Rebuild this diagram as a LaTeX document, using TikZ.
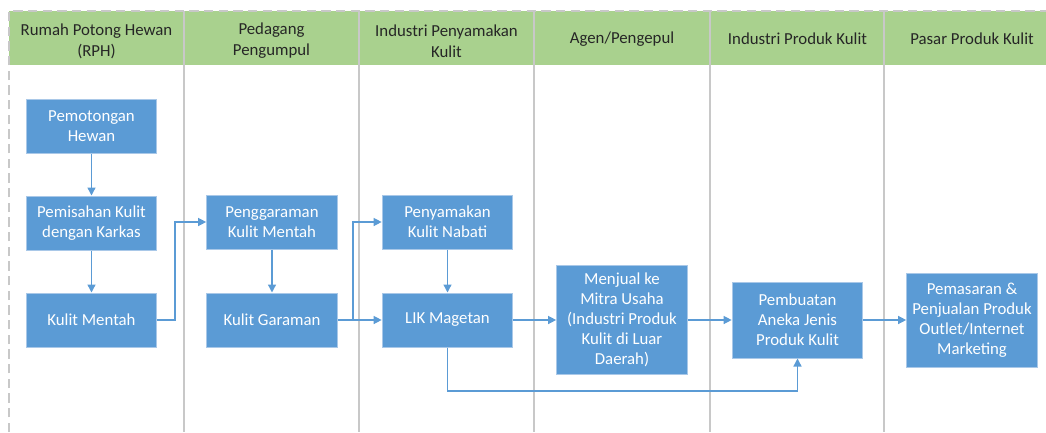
\documentclass[tikz,border=0pt]{standalone}
\usepackage{fontspec}
\setmainfont{Carlito}
\usetikzlibrary{arrows.meta}
\definecolor{hdr}{HTML}{A9D18E}
\definecolor{boxblue}{HTML}{5B9BD5}
\definecolor{boxedge}{HTML}{A9C8E8}
\definecolor{lanegray}{HTML}{C8C8C8}
\definecolor{hdrtext}{HTML}{262626}
\tikzset{
  procbox/.style={draw=boxedge, line width=0.75pt, fill=boxblue, text=white, align=center,
    inner sep=0pt, minimum width=98pt, font=\fontsize{12.6}{15}\selectfont},
  lanehead/.style={text=hdrtext, align=center, inner sep=0pt, font=\fontsize{12.6}{15.75}\selectfont},
  flow/.style={draw=boxblue, line width=1pt, -{Triangle[length=6pt,width=6pt]}},
  divider/.style={draw=lanegray, line width=1.2pt},
  border/.style={draw=lanegray, line width=1.2pt, dash pattern=on 7pt off 4pt}
}
\begin{document}
\begin{tikzpicture}[x=0.75pt,y=-0.75pt]
\useasboundingbox (0,0) rectangle (1046,432);
% header band
\fill[hdr] (9,11) rectangle (1046,65);
% lane dividers
\foreach \xx in {184,359,534,710,884} {\draw[divider] (\xx,11) -- (\xx,432);}
% outer dashed border
\draw[border] (9,432) -- (9,11) -- (1046,11);
% lane headers
\node[lanehead] (h1) at (96.5,41) {Rumah Potong Hewan\\(RPH)};
\node[lanehead] (h2) at (271.5,41) {Pedagang\\Pengumpul};
\node[lanehead] (h3) at (446.5,41) {Industri Penyamakan\\Kulit};
\node[lanehead] (h4) at (622,39) {Agen/Pengepul};
\node[lanehead] (h5) at (797.5,39) {Industri Produk Kulit};
\node[lanehead] (h6) at (972,39) {Pasar Produk Kulit};
% boxes
\node[procbox, minimum height=40.5pt] (b1) at (91.5,126) {Pemotongan\\Hewan};
\node[procbox, minimum height=40.5pt] (b2) at (91.5,223) {Pemisahan Kulit\\dengan Karkas};
\node[procbox, minimum height=40.5pt] (b3) at (91.5,320) {Kulit Mentah};
\node[procbox, minimum height=40.5pt] (b4) at (272,222) {Penggaraman\\Kulit Mentah};
\node[procbox, minimum height=40.5pt] (b5) at (272,320) {Kulit Garaman};
\node[procbox, minimum height=40.5pt] (b6) at (447.5,222) {Penyamakan\\Kulit Nabati};
\node[procbox, minimum height=40.5pt] (b7) at (447.5,320) {LIK Magetan};
\node[procbox, minimum height=81.75pt] (b8) at (622,319.5) {Menjual ke\\Mitra Usaha\\(Industri Produk\\Kulit di Luar\\Daerah)};
\node[procbox, minimum height=57pt] (b9) at (797.5,320) {Pembuatan\\Aneka Jenis\\Produk Kulit};
\node[procbox, minimum height=70.5pt] (b10) at (972,320) {Pemasaran \&\\Penjualan Produk\\Outlet/Internet\\Marketing};
% connectors
\coordinate (c1) at (175,320);
\coordinate (c2) at (353,320);
\coordinate (c3) at (447.5,391);
\coordinate (c4) at (797.5,391);
\draw[flow] (b1) -- (b2);
\draw[flow] (b2) -- (b3);
\draw[flow] (b3.east) -- (c1) |- (b4.west);
\draw[flow] (b4) -- (b5);
\draw[flow] (b5.east) -- (b7.west);
\draw[flow] (c2) |- (b6.west);
\draw[flow] (b6) -- (b7);
\draw[flow] (b7.east) -- (b8.west |- b7.east);
\draw[flow] (b8.east |- b9.west) -- (b9.west);
\draw[flow] (b9.east) -- (b10.west);
\draw[flow] (b7.south) -- (c3) -- (c4) -- (b9.south);
\end{tikzpicture}
\end{document}
